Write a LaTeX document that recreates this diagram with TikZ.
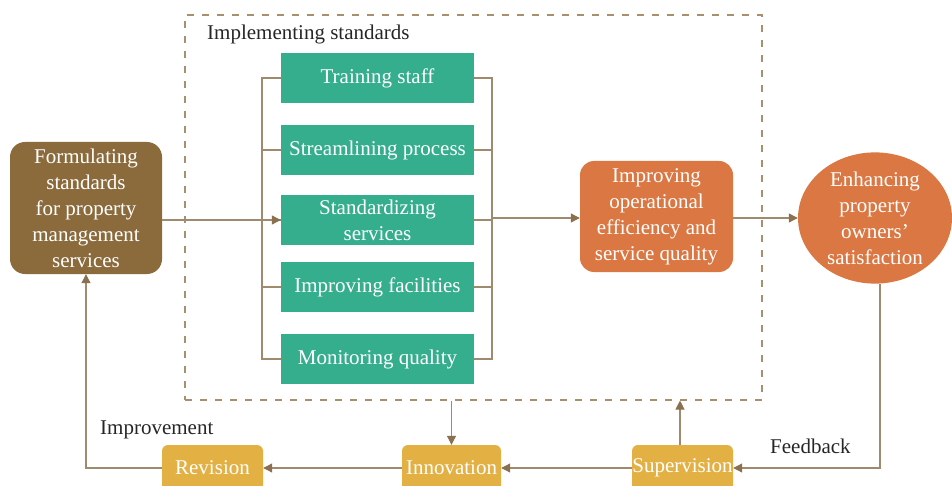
\documentclass[tikz,border=0pt]{standalone}
\usepackage{fontspec}
\setmainfont{Liberation Serif}
\usetikzlibrary{arrows.meta,shapes.geometric}
\definecolor{cbrown}{HTML}{8B6A3C}
\definecolor{cgreen}{HTML}{35AE8E}
\definecolor{corange}{HTML}{DA7743}
\definecolor{cyellow}{HTML}{E3B043}
\definecolor{cline}{HTML}{A08A6E}
\definecolor{carrow}{HTML}{8B7050}
\definecolor{cdash}{HTML}{A8906E}
\begin{document}
\begin{tikzpicture}[x=1pt,y=-1pt,
  every node/.style={font=\fontsize{21}{26}\selectfont, inner sep=0pt, align=center},
  brownbox/.style={fill=cbrown, text=white, rounded corners=15pt, minimum width=152pt, minimum height=132pt},
  greenbox/.style={fill=cgreen, text=white, minimum width=193pt, minimum height=50pt},
  orangebox/.style={fill=corange, text=white, rounded corners=14pt, minimum width=153pt, minimum height=111pt},
  yellowbox/.style={fill=cyellow, text=white, rounded corners=6pt, minimum height=46pt},
  conn/.style={draw=cline, line width=1.1pt},
  arr/.style={conn, -{Triangle[length=9pt,width=9pt,color=carrow]}},
  lbl/.style={text=black!85}]
\useasboundingbox (0,0) rectangle (952,486);
% frame
\node (frame) [draw=cdash, dash pattern=on 7pt off 8pt, line width=1.1pt, minimum width=577pt, minimum height=385pt] at (473.5,207.5) {};
\node[lbl, anchor=west] (impl) at (207,34) {Implementing standards};
% boxes
\node[brownbox] (form) at (86,208) {Formulating\\standards\\for property\\management\\services};
\node[greenbox] (g1) at (377.5,78) {Training staff};
\node[greenbox] (g2) at (377.5,150) {Streamlining process};
\node[greenbox] (g3) at (377.5,220) {Standardizing\\services};
\node[greenbox] (g4) at (377.5,287) {Improving facilities};
\node[greenbox] (g5) at (377.5,359) {Monitoring quality};
\node[orangebox] (imp) at (656.5,216.5) {Improving\\operational\\efficiency and\\service quality};
\node[ellipse, fill=corange, text=white, minimum width=154pt, minimum height=126pt] (enh) at (875,218) {Enhancing\\property\\owners’\\satisfaction};
\node[yellowbox, minimum width=101pt] (rev) at (212.5,468) {Revision};
\node[yellowbox, minimum width=99pt] (inn) at (451.5,468) {Innovation};
\node[yellowbox, minimum width=101pt] (sup) at (682.5,468) {Supervision};
\node[lbl, anchor=west] (impt) at (100,430) {Improvement};
\node[lbl, anchor=west] (fb) at (770,446) {Feedback};
% brackets
\coordinate (lt) at (262,78);
\coordinate (lb) at (262,359);
\coordinate (rt) at (492,78);
\coordinate (rb) at (492,359);
\coordinate (rm) at (492,218);
\draw[conn] (g1.west) -- (lt) -- (lb) -- (g5.west);
\draw[conn] (g1.east) -- (rt) -- (rb) -- (g5.east);
\foreach \g in {g2,g3,g4}{
  \draw[conn] (\g.west) -- (\g.west -| lt);
  \draw[conn] (\g.east) -- (\g.east -| rt);
}
% arrows
\draw[arr] (form.east |- g3.west) -- (g3.west);
\draw[arr] (rm) -- (imp.west |- rm);
\draw[arr] (imp.east |- enh.west) -- (enh.west);
\draw[arr] ([xshift=5pt]enh.south) |- (sup.east);
\draw[arr] (sup.west) -- (inn.east);
\draw[arr] (inn.west) -- (rev.east);
\draw[arr] (rev.west) -| (form.south);
\draw[arr] (frame.south -| inn.north) -- (inn.north);
\draw[arr] ([xshift=-2.5pt]sup.north) -- ([xshift=-2.5pt]frame.south -| sup.north);
\end{tikzpicture}
\end{document}
